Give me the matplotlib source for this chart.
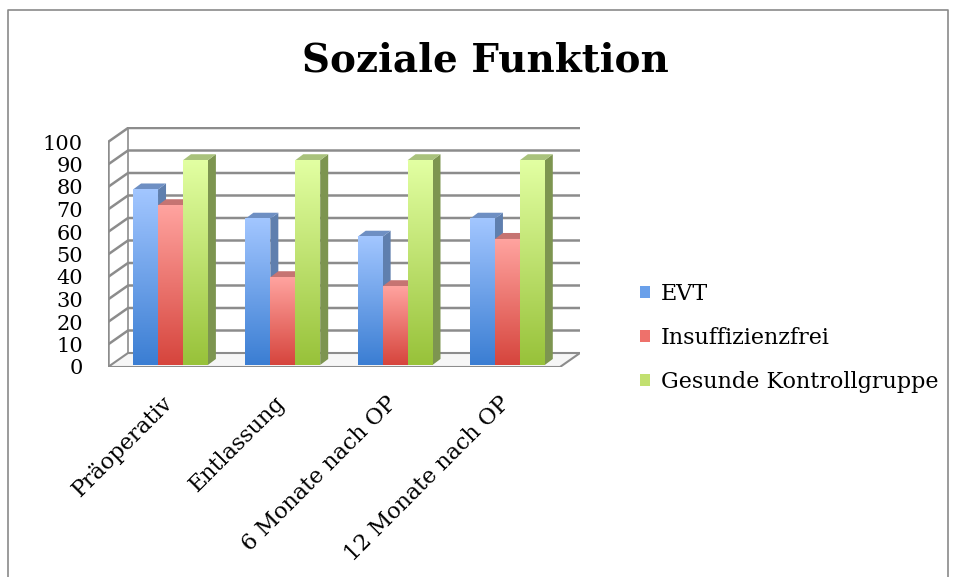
import numpy as np
import matplotlib
matplotlib.use("Agg")
import matplotlib.pyplot as plt
import matplotlib.transforms as mtransforms
from matplotlib.colors import LinearSegmentedColormap
from matplotlib.patches import Polygon, Patch
from matplotlib.lines import Line2D

# data
categories = ["Präoperativ", "Entlassung", "6 Monate nach OP", "12 Monate nach OP"]
series_names = ["EVT", "Insuffizienzfrei", "Gesunde Kontrollgruppe"]
evt = [78, 65, 57, 65]
insuff = [71, 39, 35, 56]
gesund = [91, 91, 91, 91]
yticks = list(range(0, 101, 10))

# colours: (front top, front bottom, side, top face)
styles = [
    ("#a2c6ff", "#3b7ed3", "#5f7fae", "#6e8fc3"),
    ("#ffa39f", "#d6453d", "#b86462", "#c67472"),
    ("#e2ffa2", "#98c23a", "#7d9550", "#a9c27c"),
]
legend_colors = ["#6aa0ea", "#ee716b", "#c2e070"]

W, H = 955, 577
fig = plt.figure(figsize=(W / 100, H / 100), dpi=100)
plt.rcParams["font.family"] = ["DejaVu Serif"]

# axes placed in pixels: x 108..580, y 367 (0) .. 127
px_x0, px_x1, px_y0, px_y1 = 108, 580, 367, 127
ax = fig.add_axes([px_x0 / W, 1 - px_y0 / H, (px_x1 - px_x0) / W, (px_y0 - px_y1) / H])
unit_x = 112.3
unit_y = 2.25
xmin = -(170.5 - px_x0) / unit_x
xmax = xmin + (px_x1 - px_x0) / unit_x
ymax = (px_y0 - px_y1) / unit_y
ax.patch.set_visible(False)
for s in ax.spines.values():
    s.set_visible(False)

# 3d depth of the box
dx = 20 / unit_x
dy = 14 / unit_y
grid_c = "#8c8c8c"

# floor
floor = Polygon([(xmin, 0), (xmax - dx, 0), (xmax, dy), (xmin + dx, dy)],
                closed=True, facecolor="#f6f6f6", edgecolor=grid_c, lw=1.5, zorder=1)
ax.add_patch(floor)

for v in yticks[1:]:
    ax.plot([xmin, xmin + dx, xmax], [v, v + dy, v + dy], color=grid_c, lw=1.8,
            zorder=1, solid_joinstyle="miter")
ax.plot([xmin, xmin], [0, 100], color=grid_c, lw=1.8, zorder=1)
ax.plot([xmin + dx, xmin + dx], [dy, 100 + dy], color=grid_c, lw=1.2, zorder=1)

# bars
width = 0.222
sx = 8 / unit_x
sy = 6 / unit_y
lift = 0.9
x = np.arange(len(categories))
all_vals = [evt, insuff, gesund]

z = 3
for i in range(len(categories)):
    for k, vals in enumerate(all_vals):
        top_c, bot_c, side_c, topf_c = styles[k]
        x0 = x[i] + (k - 1) * width - width / 2
        x1 = x0 + width
        v = vals[i] + lift
        side = Polygon([(x1, lift), (x1 + sx, lift + sy), (x1 + sx, v + sy), (x1, v)],
                       closed=True, facecolor=side_c, edgecolor="none", zorder=z)
        ax.add_patch(side)
        topf = Polygon([(x0, v), (x0 + sx, v + sy), (x1 + sx, v + sy), (x1, v)],
                       closed=True, facecolor=topf_c, edgecolor="none", zorder=z)
        ax.add_patch(topf)
        cmap = LinearSegmentedColormap.from_list("g%d" % k, [bot_c, top_c])
        grad = np.linspace(0, 1, 100).reshape(-1, 1)
        ax.imshow(grad, extent=[x0, x1, lift, v], origin="lower", cmap=cmap,
                  aspect="auto", zorder=z + 0.5, interpolation="bilinear")
        z += 1

ax.set_xlim(xmin, xmax)
ax.set_ylim(0, ymax)

ax.set_yticks(yticks)
ax.set_yticklabels([str(t) for t in yticks], fontsize=15)
ax.tick_params(axis="y", length=0, pad=18)
ax.set_xticks(x)
ax.set_xticklabels(categories, rotation=45, ha="right", va="top",
                   rotation_mode="anchor", fontsize=16)
ax.tick_params(axis="x", length=0, pad=18)
shift = mtransforms.ScaledTranslation(-9 / 100, 0, fig.dpi_scale_trans)
for lab in ax.get_xticklabels():
    lab.set_transform(lab.get_transform() + shift)

handles = [Patch(facecolor=c, edgecolor="none") for c in legend_colors]
fig.legend(handles, series_names, loc="center left",
           bbox_to_anchor=(640 / W, 1 - 338 / H), frameon=False,
           fontsize=16, handlelength=0.45, handleheight=0.45,
           handletextpad=0.5, labelspacing=1.0, borderpad=0, borderaxespad=0)

fig.text(485 / W, 1 - 60 / H, "Soziale Funktion", ha="center", va="center",
         fontsize=28, fontweight="bold")

# chart border
bc = "#8a8a8a"
fig.add_artist(Line2D([8 / W, 8 / W, 948 / W, 948 / W],
                      [0, 1 - 10 / H, 1 - 10 / H, 0], color=bc, lw=1.2))

fig.savefig("out.png", dpi=100)
